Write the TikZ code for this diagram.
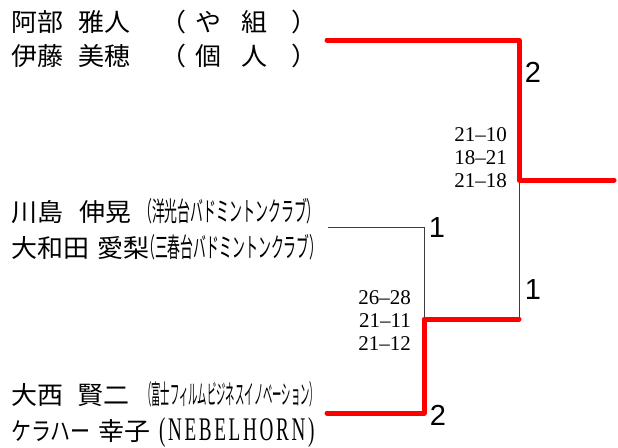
\documentclass[tikz,border=0pt]{standalone}
\usepackage{fontspec}
\usepackage{graphicx}
\usepackage{tikz}
\usetikzlibrary{positioning}
\newfontfamily\jpfont{Noto Sans CJK JP}
\newfontfamily\seedfont{Liberation Sans}
\newfontfamily\scorefont{Liberation Serif}
\newfontfamily\clubfont[LetterSpace=14]{Liberation Serif}
\definecolor{winred}{RGB}{255,0,0}
\definecolor{losegray}{RGB}{60,60,60}
% wide names, narrow clubs
\newcommand{\nm}[1]{\scalebox{1.04}[1]{#1}}
\newcommand{\club}[2]{\scalebox{#1}[1.08]{#2}}

\begin{document}
\begin{tikzpicture}[
    x=1pt, y=-1pt,
    player/.style={anchor=base west, inner sep=0pt,
                   font=\jpfont\fontsize{25}{25}\selectfont},
    score/.style={anchor=east, align=right, inner sep=0pt,
                  font=\scorefont\fontsize{21}{23}\selectfont},
    seed/.style={inner sep=0pt, font=\seedfont\fontsize{29}{29}\selectfont},
    win/.style={line width=5pt, draw=winred, line cap=round, line join=round},
    lose/.style={line width=0.8pt, draw=losegray}
]
\useasboundingbox (0,0) rectangle (618,447);

% players
\node[player] (p1) at (11,31.5) {\nm{阿部}\hspace{15pt}\nm{雅人}\hspace{30pt}\nm{（}\hspace{9pt}\nm{や}\hspace{20pt}\nm{組}\hspace{24pt}\nm{）}};
\node[player] (p2) at (11,65.5) {\nm{伊藤}\hspace{15pt}\nm{美穂}\hspace{30pt}\nm{（}\hspace{9pt}\nm{個}\hspace{20pt}\nm{人}\hspace{24pt}\nm{）}};
\node[player] (p3) at (11,221.5) {\nm{川島}\hspace{16pt}\nm{伸晃}\hspace{8pt}\club{0.515}{（洋光台バドミントンクラブ）}};
\node[player] (p4) at (11,257) {\nm{大和田}\hspace{8pt}\nm{愛梨}\hspace{-7pt}\club{0.514}{（三春台バドミントンクラブ）}};
\node[player] (p5) at (11,404) {\nm{大西}\hspace{14pt}\nm{賢二}\hspace{13pt}\club{0.374}{（富士フィルムビジネスイノベーション）}};
\node[player] (p6) at (11,440) {\scalebox{0.8}[1]{ケラハー}\hspace{8pt}\nm{幸子}\hspace{8pt}\scalebox{0.58}[1]{\clubfont\fontsize{33}{33}\selectfont(NEBELHORN)}};

% bracket points
\coordinate (e1) at (327,40);
\coordinate (e2) at (328,227);
\coordinate (e3) at (327,413);
\coordinate (r2) at (424,227);
\coordinate (r3) at (424,413);
\coordinate (sf) at (424,319);
\coordinate (f1) at (519,40);
\coordinate (f2) at (519,319);
\coordinate (fc) at (519,180);
\coordinate (champ) at (614,180);

\draw[lose] (e2) -- (r2) -- (sf);
\draw[lose] (fc) -- (f2);
\draw[win] (e3) -- (r3) -- (sf) -- (f2);
\draw[win] (e1) -- (f1) -- (fc) -- (champ);

% scores and games
\node[score] (s1) at (507,158) {21–10\\18–21\\21–18};
\node[score] (s2) at (411,321) {26–28\\21–11\\21–12};
\node[seed] (g1) at (533,72) {2};
\node[seed] (g2) at (437,228) {1};
\node[seed] (g3) at (533,290) {1};
\node[seed] (g4) at (438,415) {2};
\end{tikzpicture}
\end{document}
